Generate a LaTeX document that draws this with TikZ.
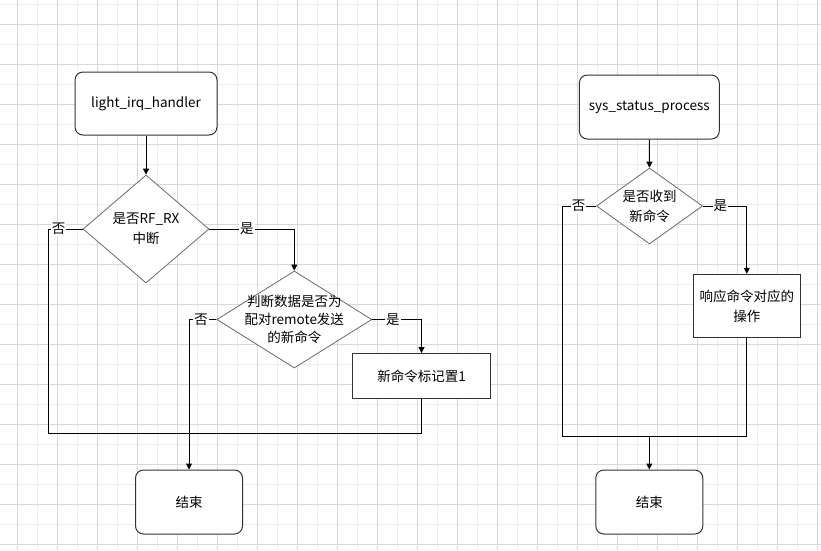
\documentclass[tikz,border=0pt]{standalone}
\usepackage{fontspec}
\setmainfont{Noto Sans CJK SC}
\usetikzlibrary{shapes.geometric}
\usetikzlibrary{arrows.meta}

\definecolor{gridmajor}{HTML}{D9D9D9}
\definecolor{gridminor}{HTML}{EDEDED}
\definecolor{boxline}{HTML}{333333}
\definecolor{diamline}{HTML}{6A6A6A}

\tikzset{
  terminal/.style={draw=boxline, line width=1pt, rounded corners=8pt, fill=white,
    minimum width=107pt, minimum height=64pt},
  process/.style={draw=boxline, line width=1pt, fill=white, align=center},
  decision/.style={diamond, draw=diamline, line width=0.8pt, fill=white, inner sep=0pt},
  inside/.style={align=center, text=black},
  flow/.style={-{Triangle[length=6pt,width=6pt]}, line width=1pt},
  link/.style={line width=1pt},
  yesno/.style={fill=white, inner sep=1pt}
}

\begin{document}
\begin{tikzpicture}[x=1pt, y=-1pt, font=\fontsize{13.5}{20}\selectfont]
            \useasboundingbox (0,0) rectangle (821,550);
            \fill[white] (0,0) rectangle (821,550);
            % grid
            \foreach \gx in {37.5,77.5,...,817.5}
                \draw[gridminor, line width=1pt] (\gx,0) -- (\gx,550);
            \foreach \gy in {4.5,44.5,...,544.5}
                \draw[gridminor, line width=1pt] (0,\gy) -- (821,\gy);
            \foreach \gx in {17.5,57.5,...,817.5}
                \draw[gridmajor, line width=1pt] (\gx,0) -- (\gx,550);
            \foreach \gy in {24.5,64.5,...,544.5}
                \draw[gridmajor, line width=1pt] (0,\gy) -- (821,\gy);

            % left flow
            \node[terminal, minimum width=142pt, minimum height=63pt] (irq) at (146,103.5) {light\_irq\_handler};
            \node[decision, minimum width=126pt, minimum height=108pt,
                label={[inside]center:是否RF\_RX\\中断}] (rfrx) at (146,229) {};
            \node[decision, minimum width=155pt, minimum height=97pt,
                label={[inside, font=\fontsize{13.5}{18}\selectfont]center:判断数据是否为\\配对remote发送\\的新命令}] (match) at (294.3,319.5) {};
            \node[process, minimum width=138pt, minimum height=45pt] (flag) at (421.5,376) {新命令标记置1};
            \node[terminal] (endL) at (189,502) {结束};
            \coordinate (mergeL) at (48.5,433);

            \draw[flow] (irq) -- (rfrx);
            \draw[flow] (rfrx.east) -| node[yesno, pos=0.22] {是} (match.north);
            \draw[link] (rfrx.west) -| node[yesno, pos=0.35] {否} (mergeL) -| (flag.south);
            \draw[flow] (match.east) -| node[yesno, pos=0.21] {是} (flag.north);
            \draw[flow] (match.west) -| node[yesno, pos=0.28] {否} (endL.north);

            % right flow
            \node[terminal, minimum width=140pt, minimum height=64pt] (sys) at (649.3,107) {sys\_status\_process};
            \node[decision, minimum width=106pt, minimum height=76pt,
                label={[inside]center:是否收到\\新命令}] (recv) at (649.5,206) {};
            \node[process, minimum width=107pt, minimum height=63pt] (act) at (746.8,305.8) {响应命令对应的\\操作};
            \node[terminal] (endR) at (649.3,502) {结束};
            \coordinate (mergeR) at (562.3,436);
            \coordinate (joinR) at (649.3,436);

            \draw[flow] (sys) -- (recv);
            \draw[flow] (recv.east) -| node[yesno, pos=0.2] {是} (act.north);
            \draw[link] (recv.west) -| node[yesno, pos=0.26] {否} (mergeR) -| (act.south);
            \draw[flow] (joinR) -- (endR);
        \end{tikzpicture}
\end{document}
